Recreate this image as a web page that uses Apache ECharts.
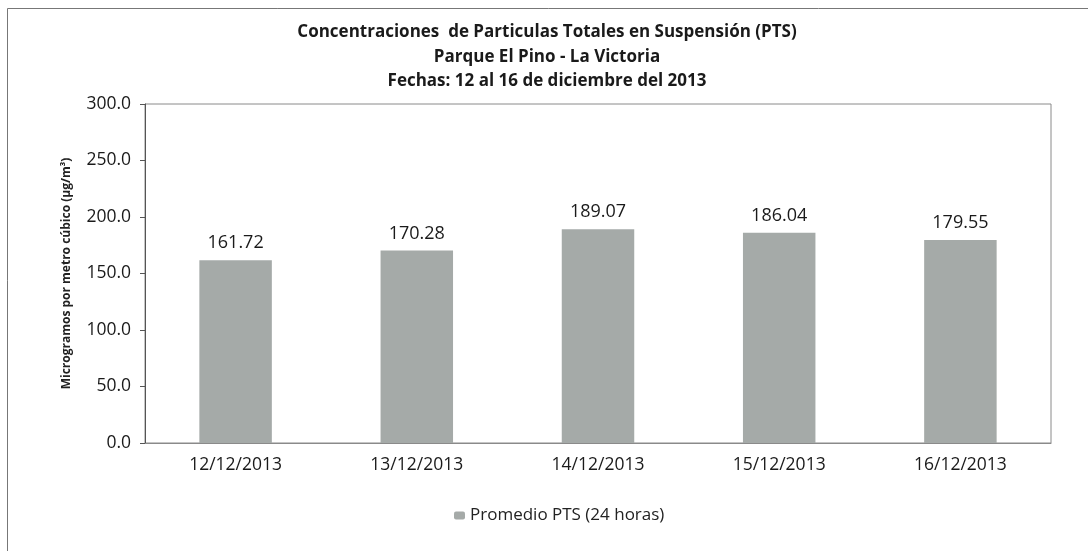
<!DOCTYPE html>
<html>
<head>
<meta charset="utf-8">
<script src="https://cdn.jsdelivr.net/npm/echarts@6/dist/echarts.min.js"></script>
<style>
  html, body { margin: 0; padding: 0; background: #fff; }
  #main { width: 1088px; height: 551px; }
</style>
</head>
<body>
<div id="main"></div>
<script>
var fechas = ["12/12/2013", "13/12/2013", "14/12/2013", "15/12/2013", "16/12/2013"];
var promedioPts = [161.72, 170.28, 189.07, 186.04, 179.55];
var yTicks = [0, 50, 100, 150, 200, 250, 300];

var myChart = echarts.init(document.getElementById('main'));

var option = {
    backgroundColor: '#fff',
    animation: false,
    title: {
        text: 'Concentraciones  de Particulas Totales en Suspensión (PTS)\nParque El Pino - La Victoria\nFechas: 12 al 16 de diciembre del 2013',
        left: 542,
        top: 15,
        textAlign: 'center',
        textStyle: {
            fontFamily: 'Open Sans',
            fontSize: 17,
            fontWeight: 'bold',
            color: '#1a1a1a',
            lineHeight: 24.5
        }
    },
    // marco exterior (solo arriba e izquierda visibles)
    graphic: [{
        type: 'rect',
        shape: { x: 7.5, y: 8.5, width: 1200, height: 700 },
        style: { fill: 'none', stroke: '#777', lineWidth: 1 },
        silent: true
    }],
    legend: {
        data: ['Promedio PTS (24 horas)'],
        left: 449,
        top: 502,
        itemWidth: 11,
        itemHeight: 8,
        itemGap: 6,
        textStyle: { fontFamily: 'Open Sans', fontSize: 17, color: '#222' }
    },
    grid: {
        left: 145,
        right: 37,
        top: 104,
        bottom: 108,
        show: true,
        borderColor: '#8a8a8a',
        borderWidth: 1
    },
    xAxis: {
        type: 'category',
        data: fechas,
        axisTick: { show: false },
        axisLine: { lineStyle: { color: '#8a8a8a' } },
        axisLabel: {
            margin: 13,
            fontFamily: 'Open Sans',
            fontSize: 17.5,
            color: '#1a1a1a'
        }
    },
    yAxis: {
        type: 'value',
        min: yTicks[0],
        max: yTicks[yTicks.length - 1],
        interval: 50,
        name: 'Microgramos por metro cúbico (µg/m³)',
        nameLocation: 'middle',
        nameGap: 72,
        nameTextStyle: {
            fontFamily: 'Open Sans',
            fontSize: 12,
            fontWeight: 'bold',
            color: '#222'
        },
        splitLine: { show: false },
        axisLine: { show: true, lineStyle: { color: '#555' } },
        axisTick: { show: true, inside: false, length: 5, lineStyle: { color: '#555' } },
        axisLabel: {
            margin: 14,
            fontFamily: 'Open Sans',
            fontSize: 17.5,
            color: '#1a1a1a',
            formatter: function (v) { return v.toFixed(1); }
        }
    },
    series: [{
        name: 'Promedio PTS (24 horas)',
        type: 'bar',
        data: promedioPts,
        barWidth: '40%',
        itemStyle: { color: '#a5aaa8' },
        label: {
            show: true,
            position: 'top',
            distance: 8,
            fontFamily: 'Open Sans',
            fontSize: 18,
            color: '#1a1a1a',
            formatter: function (p) { return p.value.toFixed(2); }
        }
    }]
};

myChart.setOption(option);
</script>
</body>
</html>
